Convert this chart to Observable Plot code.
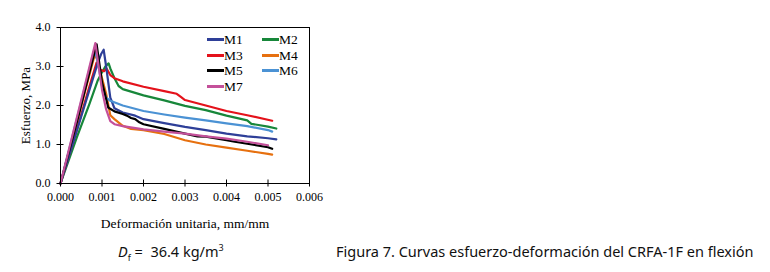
<!DOCTYPE html>
<html>
<head>
<meta charset="utf-8">
<script src="https://cdn.jsdelivr.net/npm/d3@7"></script>
<script src="https://cdn.jsdelivr.net/npm/@observablehq/plot@0.6"></script>
<style>
  body { margin: 0; background: #fff; width: 770px; height: 272px; overflow: hidden; position: relative; }
  #chart { position: absolute; left: 0; top: 0; }
  .legend { position: absolute; left: 207px; top: 32px; font-family: "Liberation Serif", serif; font-size: 13.5px; color: #000; }
  .legend .item { position: absolute; white-space: nowrap; line-height: 15px; }
  .legend .sw { display: inline-block; width: 17px; height: 3px; vertical-align: middle; margin-right: 0px; position: relative; top: -1px; }
  .cap { position: absolute; font-family: "Noto Sans", sans-serif; font-size: 14.5px; color: #111; white-space: nowrap; }
</style>
</head>
<body>
<div id="chart"></div>
<div class="legend" id="legend"></div>
<div class="cap" id="cap1" style="left:118px; top:241px;"><i>D</i><sub style="font-size:9px">f</sub>&nbsp;=&nbsp; 36.4 kg/m<sup style="font-size:9px">3</sup></div>
<div class="cap" id="cap2" style="left:336px; top:241px;">Figura 7. Curvas esfuerzo-deformación del CRFA-1F en flexión</div>
<script>
const seriesNames = ["M1", "M2", "M3", "M4", "M5", "M6", "M7"];
const seriesColors = ["#2e3f98", "#17873a", "#e4121b", "#e6700f", "#000000", "#4b92d4", "#c4509a"];

const M1 = [[0,0],[0.0005,1.72],[0.0009,3.1],[0.00098,3.32],[0.00104,3.43],[0.0011,3.0],[0.0012,2.2],[0.0013,1.93],[0.0015,1.82],[0.0018,1.74],[0.002,1.65],[0.0025,1.55],[0.003,1.45],[0.0035,1.37],[0.004,1.28],[0.0045,1.21],[0.005,1.16],[0.0052,1.13]];
const M2 = [[0,0],[0.0004,1.2],[0.0007,2.05],[0.0009,2.65],[0.001,2.85],[0.00108,3.0],[0.00116,3.08],[0.0012,2.95],[0.0013,2.7],[0.0014,2.5],[0.0015,2.42],[0.002,2.26],[0.0025,2.13],[0.003,1.99],[0.0035,1.88],[0.004,1.74],[0.0045,1.62],[0.0046,1.53],[0.005,1.46],[0.0052,1.41]];
const M3 = [[0,0],[0.0004,1.4],[0.0007,2.5],[0.00087,3.1],[0.00095,2.92],[0.00105,2.88],[0.00111,2.95],[0.0012,2.78],[0.0013,2.7],[0.0015,2.62],[0.002,2.48],[0.0025,2.37],[0.0028,2.3],[0.0029,2.22],[0.003,2.14],[0.0035,2.0],[0.004,1.86],[0.0045,1.75],[0.0051,1.61]];
const M4 = [[0,0],[0.0008,3.2],[0.00085,3.3],[0.0011,2.3],[0.0012,1.75],[0.0013,1.65],[0.0015,1.48],[0.0017,1.4],[0.002,1.37],[0.0025,1.27],[0.003,1.11],[0.0035,1.0],[0.004,0.92],[0.0045,0.84],[0.005,0.76],[0.0051,0.74]];
const M5 = [[0,0],[0.0004,1.6],[0.00087,3.57],[0.001,2.6],[0.00115,1.95],[0.0013,1.85],[0.0015,1.78],[0.0016,1.74],[0.0017,1.68],[0.0018,1.65],[0.0019,1.57],[0.002,1.52],[0.0025,1.4],[0.003,1.28],[0.0033,1.21],[0.0035,1.2],[0.004,1.11],[0.0042,1.07],[0.0045,1.02],[0.005,0.93],[0.0051,0.89]];
const M6 = [[0,0],[0.00082,3.45],[0.0009,3.1],[0.001,2.5],[0.0011,2.2],[0.0012,2.12],[0.0015,2.0],[0.002,1.86],[0.0025,1.77],[0.003,1.69],[0.0035,1.62],[0.004,1.54],[0.0045,1.47],[0.005,1.37],[0.0051,1.33]];
const M7 = [[0,0],[0.00084,3.6],[0.001,2.4],[0.0011,1.9],[0.0012,1.6],[0.0013,1.52],[0.0015,1.47],[0.002,1.39],[0.0025,1.33],[0.003,1.28],[0.0035,1.21],[0.004,1.15],[0.0045,1.07],[0.005,0.98]];

const xTicks = [0, 0.001, 0.002, 0.003, 0.004, 0.005, 0.006];
const yTicks = [0, 1, 2, 3, 4];
const xTitle = "Deformación unitaria, mm/mm";
const yTitle = "Esfuerzo, MPa";

const seriesData = [M1, M2, M3, M4, M5, M6, M7];
const rows = [];
seriesData.forEach((s, i) => s.forEach(([x, y]) => rows.push({ series: seriesNames[i], x, y })));

const drawOrder = ["M4", "M2", "M3", "M1", "M6", "M5", "M7"];
const blank = () => "";

const chart = Plot.plot({
  width: 335,
  height: 235,
  marginLeft: 60,
  marginRight: 26,
  marginTop: 27,
  marginBottom: 52,
  style: { fontFamily: "Liberation Serif, serif", fontSize: "12px", color: "#000", background: "transparent" },
  x: { domain: [0, 0.006] },
  y: { domain: [0, 4] },
  color: { domain: seriesNames, range: seriesColors },
  marks: [
    drawOrder.map(name => Plot.line(rows.filter(d => d.series === name), { x: "x", y: "y", stroke: "series", strokeWidth: 2.2, strokeLinejoin: "round" })),
    Plot.frame({ stroke: "#000", strokeWidth: 1 }),
    Plot.axisX({ ticks: xTicks, tickSize: 7, dy: -3.5, tickFormat: blank, label: null, stroke: "#000" }),
    Plot.axisX({ ticks: xTicks, tickFormat: d3.format(".3f"), tickSize: 0, tickPadding: 9, label: xTitle, labelAnchor: "center", labelArrow: "none", labelOffset: 44, fill: "#000", fontSize: 13.5 }),
    Plot.axisY({ ticks: yTicks, tickSize: 7, dx: 3.5, tickFormat: blank, label: null, stroke: "#000" }),
    Plot.axisY({ ticks: yTicks, tickFormat: d3.format(".1f"), tickSize: 0, tickPadding: 10, label: yTitle, labelAnchor: "center", labelArrow: "none", labelOffset: 40, fill: "#000", fontSize: 13 })
  ]
});
document.getElementById("chart").appendChild(chart);
// tick labels at 12px, axis titles slightly larger
chart.querySelectorAll("g[aria-label='x-axis tick label'] text, g[aria-label='y-axis tick label'] text").forEach(t => t.setAttribute("font-size", "12"));

const legend = document.getElementById("legend");
seriesNames.forEach((name, i) => {
  const col = i % 2, row = Math.floor(i / 2);
  const item = document.createElement("div");
  item.className = "item";
  item.style.left = (col * 55) + "px";
  item.style.top = (row * 15.5) + "px";
  item.innerHTML = `<span class="sw" style="background:${seriesColors[i]}"></span>${name}`;
  legend.appendChild(item);
});
</script>
</body>
</html>
